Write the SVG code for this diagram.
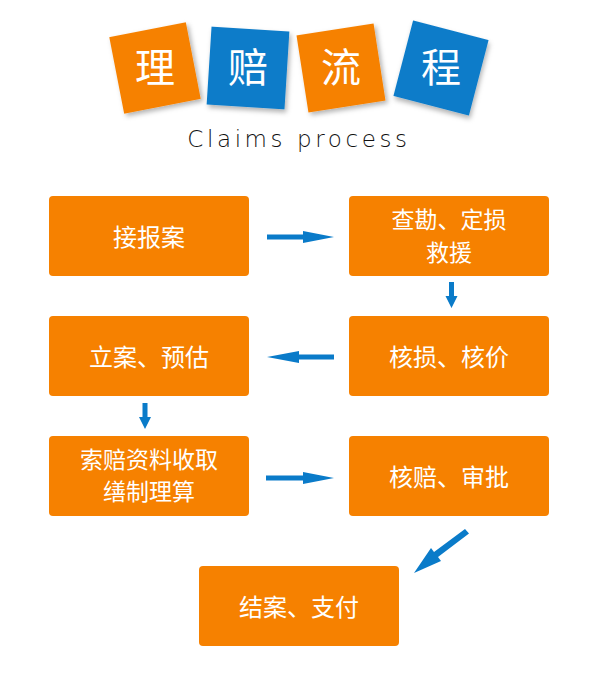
<svg xmlns="http://www.w3.org/2000/svg" width="599" height="678" viewBox="0 0 599 678">
<defs>
<style>
.box{fill:#F68100}
.tile-o{fill:#F68100}
.tile-b{fill:#0A7BC9}
.t{fill:#fff;font-family:"Noto Sans CJK SC","Noto Sans",sans-serif;font-size:24px;text-anchor:middle}
.t2{fill:#fff;font-family:"Noto Sans CJK SC","Noto Sans",sans-serif;font-size:23px;text-anchor:middle}
.tt{fill:#fff;font-family:"Noto Sans CJK SC",sans-serif;font-size:40px;font-weight:400;text-anchor:middle}
</style>
<filter id="sh" x="-20%" y="-20%" width="140%" height="140%"><feDropShadow dx="2" dy="3" stdDeviation="2.5" flood-color="#000" flood-opacity="0.3"/></filter>
</defs>
<rect width="599" height="678" fill="#fff"/>
<g id="title">
<g id="tile1"><rect x="-39" y="-39" width="78" height="78" class="tile-o" filter="url(#sh)" transform="translate(155,68) rotate(-11)"/><text class="tt" x="155" y="82">理</text></g>
<g id="tile2"><rect x="-39" y="-39" width="78" height="78" class="tile-b" filter="url(#sh)" transform="translate(248,68) rotate(3.6)"/><text class="tt" x="248" y="82">赔</text></g>
<g id="tile3"><rect x="-39" y="-39" width="78" height="78" class="tile-o" filter="url(#sh)" transform="translate(341,68) rotate(-8.8)"/><text class="tt" x="341" y="82">流</text></g>
<g id="tile4"><rect x="-39" y="-39" width="78" height="78" class="tile-b" filter="url(#sh)" transform="translate(441,68) rotate(14.6)"/><text class="tt" x="441" y="82">程</text></g>
<text x="299" y="147" font-family="'DejaVu Sans',sans-serif" font-size="23" font-weight="200" letter-spacing="3.6" fill="#111" text-anchor="middle">Claims process</text>
</g>
<g id="n1"><rect x="49" y="196" width="200" height="80" rx="4" class="box"/><text class="t" x="149" y="246">接报案</text></g>
<g id="n2"><rect x="349" y="196" width="200" height="80" rx="4" class="box"/><text class="t2" x="449" y="228">查勘、定损</text><text class="t2" x="449" y="261">救援</text></g>
<g id="n3"><rect x="349" y="316" width="200" height="80" rx="4" class="box"/><text class="t" x="449" y="366">核损、核价</text></g>
<g id="n4"><rect x="49" y="316" width="200" height="80" rx="4" class="box"/><text class="t" x="149" y="366">立案、预估</text></g>
<g id="n5"><rect x="49" y="436" width="200" height="80" rx="4" class="box"/><text class="t2" x="149" y="468">索赔资料收取</text><text class="t2" x="149" y="500">缮制理算</text></g>
<g id="n6"><rect x="349" y="436" width="200" height="80" rx="4" class="box"/><text class="t" x="449" y="486">核赔、审批</text></g>
<g id="n7"><rect x="199" y="566" width="200" height="80" rx="4" class="box"/><text class="t" x="299" y="616">结案、支付</text></g>
<g id="connectors" fill="#0A7BC9">
<path d="M267 234.5 H303 V231 L334 237 L303 243 V239.5 H267 Z"/>
<path d="M334 354.5 H299 V351 L267 357 L299 363 V359.5 H334 Z"/>
<path d="M266 475.5 H303 V472 L334 478 L303 484 V480.5 H266 Z"/>
<path d="M449 282 H454 V296 H457.5 L451.5 308 L445.5 296 H449 Z"/>
<path d="M142.5 403 H147.5 V417 H151 L145 429 L139 417 H142.5 Z"/>
<path d="M465 529 L469 533.5 L438 557 L441 561 L414 573 L431 548 L434 552 Z"/>
</g>
</svg>
